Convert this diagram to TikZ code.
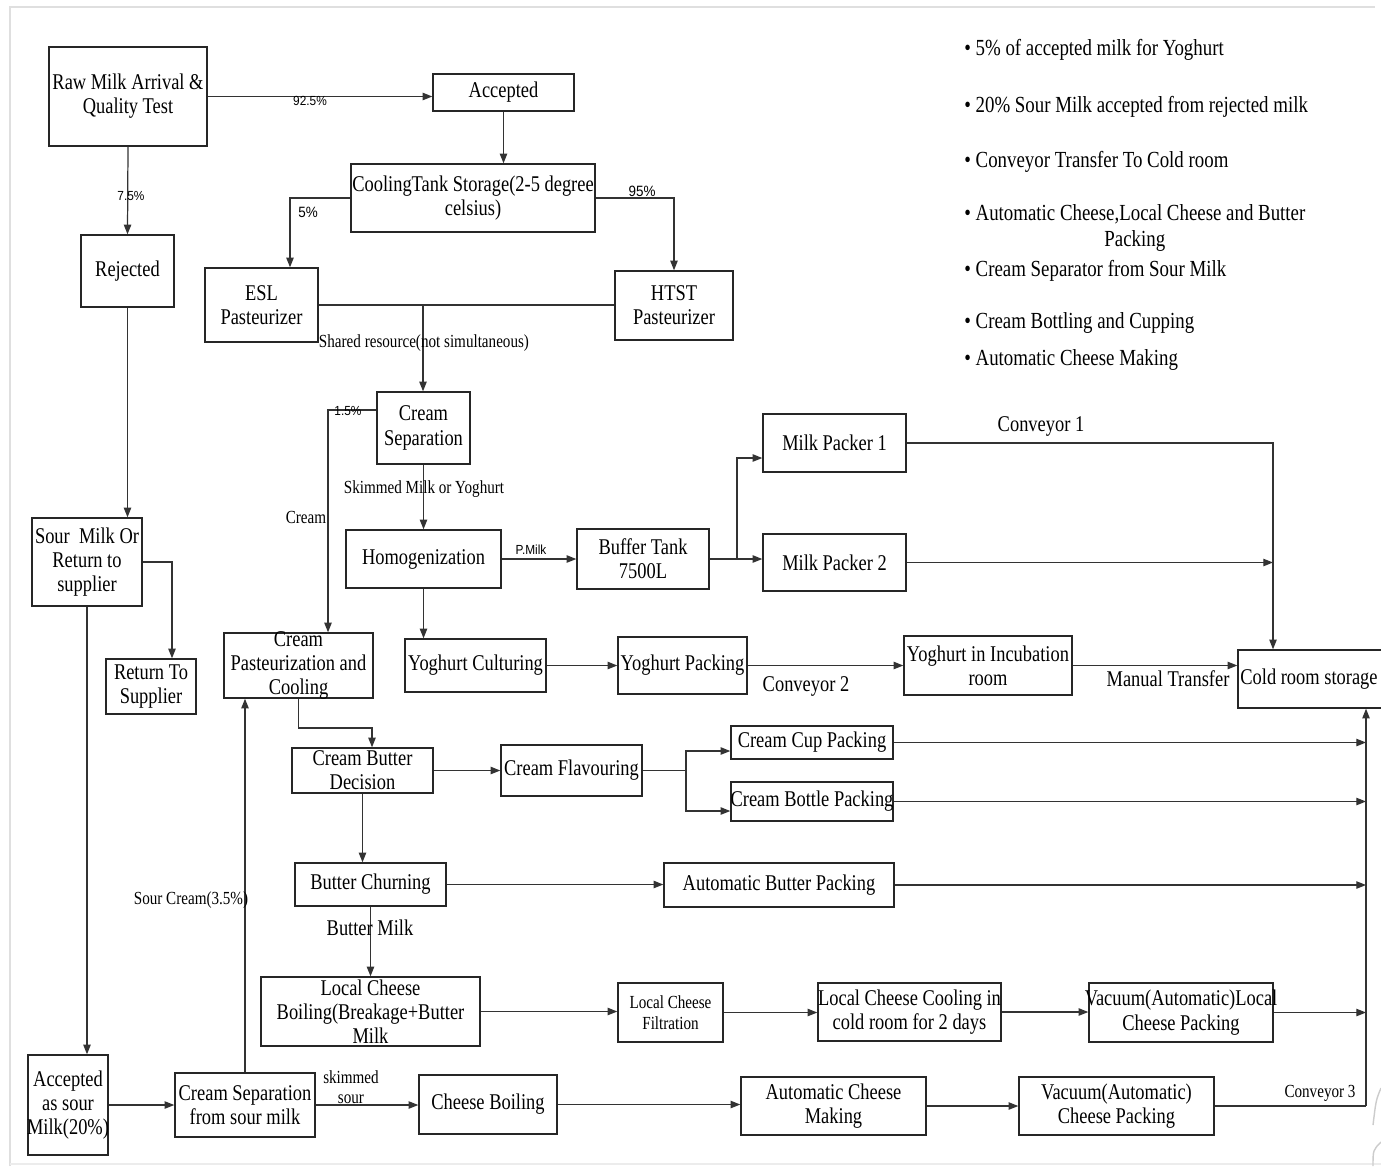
\documentclass[tikz,border=0pt]{standalone}
\usepackage{fontspec}
\setmainfont{Liberation Serif}[FakeStretch=0.82]
\newfontfamily\lblsans{Liberation Sans}[FakeStretch=0.9]
\usetikzlibrary{arrows.meta}

% process block: name, x1, y1, x2, y2, text (pixel-style coordinates)
\newcommand\procbox[6]{%
  \pgfmathsetmacro\bw{(#4-#2)*0.02}%
  \pgfmathsetmacro\bh{(#5-#3)*0.02}%
  \node[box, minimum width=\bw cm, minimum height=\bh cm] (#1) at ({(#2+#4)/2},{(#3+#5)/2}) {};
  \node[txt] (#1-t) at (#1.center) {#6};%
}

\tikzset{
  box/.style={draw=black!85, line width=0.8pt, inner sep=0pt},
  txt/.style={align=center, inner sep=0pt, font=\fontsize{12.8}{13.8}\selectfont},
  midlbl/.style={align=center, inner sep=0pt, font=\fontsize{10.5}{12}\selectfont},
  slbl/.style={inner sep=0pt, font=\lblsans\fontsize{7.5}{9}\selectfont},
  plbl/.style={inner sep=0pt, font=\lblsans\fontsize{8.5}{10}\selectfont},
  conn/.style={draw=black!80, line width=0.7pt},
  arr/.style={conn, -{Triangle[length=5.5pt,width=4.2pt]}},
  item/.style={anchor=west, inner sep=0pt, align=center, font=\fontsize{13.1}{14.4}\selectfont}
}

\begin{document}
\begin{tikzpicture}[x=0.02cm, y=-0.02cm]
\useasboundingbox (0,0) rectangle (1381,1166);
\fill[white] (0,0) rectangle (1381,1166);

% page frame
\draw[gray!25, line width=1.6pt] (10,1166) -- (10,7) -- (1375,7);
\draw[gray!15, line width=1pt] (10,1164) -- (1381,1164);
\draw[gray!40, line width=0.8pt] (1381,1088) .. controls (1376,1100) .. (1373,1125);
\draw[gray!40, line width=0.8pt] (1381,1142) .. controls (1373,1150) .. (1373,1166);

% ---------- blocks ----------
\procbox{raw}{49}{47}{207}{146}{Raw Milk Arrival \&\\Quality Test}
\procbox{acc}{433}{74}{574}{111}{Accepted}
\procbox{cool}{351}{164}{595}{232}{CoolingTank Storage(2-5 degree\\celsius)}
\procbox{rej}{81}{235}{174}{307}{Rejected}
\procbox{esl}{205}{268}{318}{342}{ESL\\Pasteurizer}
\procbox{htst}{615}{271}{733}{340}{HTST\\Pasteurizer}
\procbox{csep}{377}{392}{470}{464}{Cream\\Separation}
\procbox{sour}{32}{518}{142}{606}{Sour~ Milk Or\\Return to\\supplier}
\procbox{homog}{346}{530}{501}{588}{Homogenization}
\procbox{buf}{577}{529}{709}{589}{Buffer Tank\\7500L}
\procbox{mpa}{763}{414}{906}{472}{Milk Packer 1}
\procbox{mpb}{763}{534}{906}{591}{Milk Packer 2}
\procbox{cpast}{224}{633}{373}{698}{Cream\\Pasteurization and\\Cooling}
\procbox{ret}{106}{659}{196}{714}{Return To\\Supplier}
\procbox{yc}{405}{639}{546}{692}{Yoghurt Culturing}
\procbox{yp}{618}{637}{747}{694}{Yoghurt Packing}
\procbox{inc}{904}{636}{1072}{695}{Yoghurt in Incubation\\room}
\node[box, minimum width=3.24cm, minimum height=1.16cm] (cold) at (1319,679) {};
\node[txt] (cold-t) at (1309,679) {Cold room storage};
\procbox{cbd}{292}{748}{433}{793}{Cream Butter\\Decision}
\procbox{cfl}{501}{745}{642}{796}{Cream Flavouring}
\procbox{ccup}{731}{726}{893}{759}{Cream Cup Packing}
\procbox{cbot}{731}{782}{893}{821}{Cream Bottle Packing}
\procbox{bch}{295}{863}{446}{906}{Butter Churning}
\procbox{abp}{664}{863}{894}{907}{Automatic Butter Packing}
\procbox{lcb}{261}{977}{480}{1046}{Local Cheese\\Boiling(Breakage+Butter\\Milk}
\node[box, minimum width=2.1cm, minimum height=1.18cm] (lcf) at (670.5,1012.5) {};
\node[midlbl, font=\fontsize{10.5}{11.8}\selectfont] (lcf-t) at (lcf.center) {Local Cheese\\Filtration};
\procbox{lcc}{818}{983}{1001}{1041}{Local Cheese Cooling in\\cold room for 2 days}
\procbox{vl}{1089}{983}{1273}{1042}{Vacuum(Automatic)Local\\Cheese Packing}
\procbox{asour}{28}{1055}{108}{1155}{Accepted\\as sour\\Milk(20\%)}
\procbox{css}{175}{1073}{315}{1137}{Cream Separation\\from sour milk}
\procbox{cb}{419}{1075}{557}{1134}{Cheese Boiling}
\procbox{acm}{741}{1077}{926}{1135}{Automatic Cheese\\Making}
\procbox{vcp}{1019}{1077}{1214}{1135}{Vacuum(Automatic)\\Cheese Packing}

% ---------- junction points ----------
\coordinate (shared) at (423,305);
\coordinate (split) at (737,559);
\coordinate (fork) at (686,770.5);
\coordinate (bus) at (1366,1106);

% ---------- connectors ----------
\draw[arr] (raw.east) -- (raw.east -| acc.west);
\draw[arr] (raw.south) -- (rej.north);
\draw[arr] (acc.south) -- (acc.south |- cool.north);
\draw[arr] (cool.west) -| (290,0 |- esl.north);
\draw[arr] (cool.east) -| (htst.north);
\draw[conn] (esl.east) -- (esl.east -| htst.west);
\draw[arr] (shared) -- (shared |- csep.north);
\draw[arr] (csep.west |- 0,410) -| (328,0 |- cpast.north);
\draw[arr] (csep.south) -- (csep.south |- homog.north);
\draw[arr] (homog.east) -- (homog.east -| buf.west);
\draw[arr] (homog.south) -- (homog.south |- yc.north);
\draw[arr] (yc.east) -- (yc.east -| yp.west);
\draw[conn] (buf.east) -- (split);
\draw[arr] (split) |- (mpa.west |- 0,458);
\draw[arr] (split) -- (split -| mpb.west);
\draw[arr] (mpa.east) -| (1273,0 |- cold.north);
\draw[arr] (mpb.east) -- (1273,0 |- mpb.east);
\draw[arr] (yp.east) -- (yp.east -| inc.west);
\draw[arr] (inc.east) -- (inc.east -| cold.west);
\draw[arr] (cpast.south) -- (cpast.south |- 0,728) -| (372,0 |- cbd.north);
\draw[arr] (cbd.east) -- (cbd.east -| cfl.west);
\draw[conn] (cfl.east) -- (fork);
\draw[arr] (fork) |- (ccup.west |- 0,751);
\draw[arr] (fork) |- (cbot.west |- 0,811);
\draw[arr] (ccup.east) -- (bus |- ccup.east);
\draw[arr] (cbot.east) -- (bus |- cbot.east);
\draw[arr] (cbd.south) -- (cbd.south |- bch.north);
\draw[arr] (bch.east) -- (bch.east -| abp.west);
\draw[arr] (abp.east) -- (bus |- abp.east);
\draw[arr] (bch.south -| lcb.north) -- (lcb.north);
\draw[arr] (lcb.east) -- (lcb.east -| lcf.west);
\draw[arr] (lcf.east) -- (lcf.east -| lcc.west);
\draw[arr] (lcc.east) -- (lcc.east -| vl.west);
\draw[arr] (vl.east) -- (bus |- vl.east);
\draw[conn] (vcp.east) -- (bus);
\draw[arr] (bus) -- (bus |- cold.south);
\draw[arr] (rej.south) -- (rej.south |- sour.north);
\draw[arr] (sour.east) -| (172,0 |- ret.north);
\draw[arr] (sour.south) -- (sour.south |- asour.north);
\draw[arr] (asour.east |- css.west) -- (css.west);
\draw[arr] (css.north) -- (css.north |- cpast.south);
\draw[arr] (css.east) -- (css.east -| cb.west);
\draw[arr] (cb.east) -- (cb.east -| acm.west);
\draw[arr] (acm.east) -- (acm.east -| vcp.west);

% ---------- connector labels ----------
\node[slbl] (l925) at (310,101) {92.5\%};
\node[slbl] (l75) at (131,196) {7.5\%};
\node[plbl] (l5) at (308,212) {5\%};
\node[plbl] (l95) at (642,191) {95\%};
\node[slbl] (l15) at (348,411) {1.5\%};
\node[slbl] (lpm) at (531,550) {P.Milk};
\node[midlbl] (lshared) at (424,343) {Shared resource(not simultaneous)};
\node[midlbl] (lskim) at (424,489) {Skimmed Milk or Yoghurt};
\node[midlbl] (lcream) at (306,517) {Cream};
\node[midlbl] (lsourcr) at (191,900) {Sour Cream(3.5\%)};
\node[midlbl] (lskd) at (351,1077) {skimmed};
\node[midlbl] (lsr) at (351,1099) {sour};
\node[midlbl] (lconv3) at (1320,1093) {Conveyor 3};
\node[txt] (lbm) at (370,928) {Butter Milk};
\node[txt] (lconv1) at (1041,426) {Conveyor 1};
\node[txt] (lconv2) at (806,686) {Conveyor 2};
\node[txt] (lman) at (1168,679) {Manual Transfer};

% ---------- notes ----------
\node[item] (n1) at (964,50) {\textbullet~5\% of accepted milk for Yoghurt};
\node[item] (n2) at (964,107) {\textbullet~20\% Sour Milk accepted from rejected milk};
\node[item] (n3) at (964,162) {\textbullet~Conveyor Transfer To Cold room};
\node[item] (n4) at (964,228) {\textbullet~Automatic Cheese,Local Cheese and Butter\\Packing};
\node[item] (n5) at (964,271) {\textbullet~Cream Separator from Sour Milk};
\node[item] (n6) at (964,323) {\textbullet~Cream Bottling and Cupping};
\node[item] (n7) at (964,360) {\textbullet~Automatic Cheese Making};
\end{tikzpicture}
\end{document}
